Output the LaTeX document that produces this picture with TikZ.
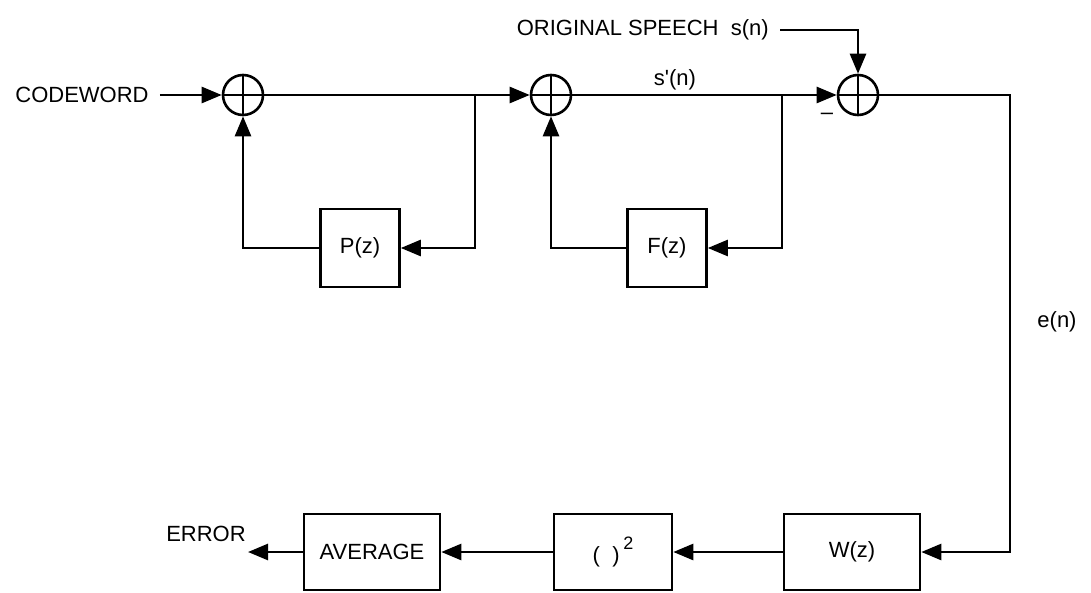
\documentclass[tikz,border=0pt]{standalone}
\usepackage{fontspec}
\setmainfont{Liberation Sans}
\usetikzlibrary{positioning,arrows.meta}

\begin{document}
\begin{tikzpicture}[x=0.5pt,y=-0.5pt,line width=1.3pt,
    font=\fontsize{11}{13}\selectfont,
    block/.style={draw,minimum width=39.5pt,minimum height=39pt,inner sep=0pt},
    wideblock/.style={block,minimum width=68pt,minimum height=38pt},
    adder/.style={draw,circle,minimum size=20pt,inner sep=0pt,
      path picture={\draw (path picture bounding box.north) -- (path picture bounding box.south)
        (path picture bounding box.west) -- (path picture bounding box.east);}},
    sig/.style={-{Triangle[length=10pt,width=8pt]}},
    lbl/.style={inner sep=0pt}]
      \useasboundingbox (0,0) rectangle (1091,593);
      % forward path
      \node[lbl] (codeword) at (82,95) {CODEWORD};
      \node[adder] (add1) at (243,95) {};
      \node[adder] (add2) at (551,95) {};
      \node[adder] (add3) at (858,95) {};
      \node[block] (pz) at (360,248) {P(z)};
      \node[block] (fz) at (667,248) {F(z)};
      \coordinate (tap1) at (475,95);
      \coordinate (tap2) at (782,95);
      \coordinate (turn) at (1010,95);
      % error weighting
      \node[wideblock] (wz) at (852,552) {W(z)};
      \node[wideblock,minimum width=59pt] (sq) at (613,552) {(\ \ )\,\raisebox{.6em}{\fontsize{9}{9}\selectfont 2}};
      \node[wideblock] (avg) at (372,552) {AVERAGE};
      \coordinate (err) at (248,552);
      % labels
      \node[lbl,anchor=east] (speech) at (770,30) {ORIGINAL SPEECH\ \ s(n)};
      \coordinate (sp) at (780,30);
      \node[lbl] (sn) at (675,80) {s\textquotesingle(n)};
      \node[lbl] (minus) at (827,116) {--};
      \node[lbl] (en) at (1057,322) {e(n)};
      \node[lbl] (error) at (206,534) {ERROR};

      \draw[sig] ([xshift=5pt]codeword.east) -- (add1.west);
      \draw[sig] (add1.east) -- (add2.west);
      \draw[sig] (tap1) |- (pz.east);
      \draw[sig] (pz.west) -| (add1.south);
      \draw[sig] (add2.east) -- (add3.west);
      \draw[sig] (tap2) |- (fz.east);
      \draw[sig] (fz.west) -| (add2.south);
      \draw[sig] (sp) -| (add3.north);
      \draw[sig] (add3.east) -- (turn) |- (wz.east);
      \draw[sig] (wz.west) -- (sq.east);
      \draw[sig] (sq.west) -- (avg.east);
      \draw[sig] (avg.west) -- (err);
    \end{tikzpicture}
\end{document}
